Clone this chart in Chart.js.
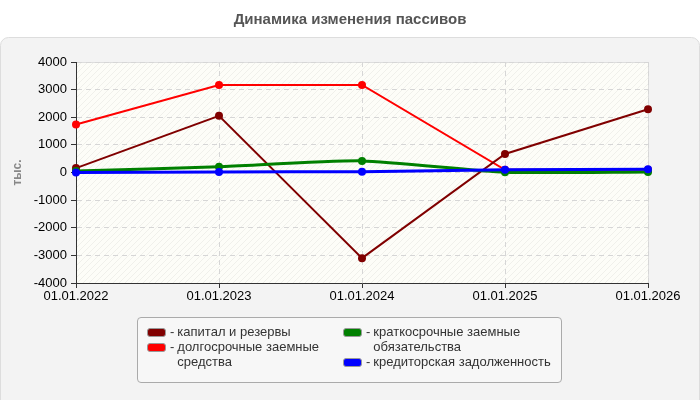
<!DOCTYPE html>
<html>
<head>
<meta charset="utf-8">
<script src="https://cdn.jsdelivr.net/npm/chart.js@4"></script>
<style>
  body { margin: 0; background: #fff; font-family: "Liberation Sans", Arial, sans-serif; }
  #wrap { position: relative; width: 700px; height: 400px; }
  #legend {
    position: absolute; left: 137px; top: 317px; width: 425px; height: 66px;
    border: 1px solid #aaa; border-radius: 4px; background: #f7f7f7;
    box-sizing: border-box; font-size: 13px; color: #333;
  }
  .item { position: absolute; display: flex; line-height: 15px; }
  .sw { width: 17px; height: 7px; border: 1px solid #999; border-radius: 3px; margin-top: 4px; flex: none; }
  .dash { margin: 0 3px 0 4px; }
</style>
</head>
<body>
<div id="wrap">
  <canvas id="chart" width="700" height="400"></canvas>
  <div id="legend"></div>
</div>
<script>
const dates = ['01.01.2022', '01.01.2023', '01.01.2024', '01.01.2025', '01.01.2026'];
const capital = [160, 2050, -3100, 670, 2290];
const longLoans = [1740, 3170, 3170, 100, 100];
const shortLoans = [50, 210, 420, 10, 20];
const payables = [0, 20, 30, 100, 120];
const seriesNames = ['капитал и резервы', 'долгосрочные заемные средства', 'краткосрочные заемные обязательства', 'кредиторская задолженность'];
const seriesColors = ['#800000', '#ff0000', '#008000', '#0000ff'];

// hatch for plot area
const pat = document.createElement('canvas');
pat.width = 6; pat.height = 6;
const pctx = pat.getContext('2d');
pctx.fillStyle = '#fdfdf8';
pctx.fillRect(0, 0, 6, 6);
pctx.strokeStyle = 'rgba(0,0,0,0.05)';
pctx.lineWidth = 1;
pctx.beginPath();
pctx.moveTo(0, 6); pctx.lineTo(6, 0);
pctx.stroke();

const panelBg = {
  id: 'panelBg',
  beforeDraw(chart) {
    const c = chart.ctx;
    const a = chart.chartArea;
    c.save();
    c.fillStyle = '#555';
    c.font = 'bold 15px "Liberation Sans", Arial, sans-serif';
    c.textAlign = 'center';
    c.textBaseline = 'middle';
    c.fillText('Динамика изменения пассивов', 350, 20);
    c.fillStyle = '#f3f3f3';
    c.strokeStyle = '#ddd';
    c.beginPath();
    c.roundRect(0.5, 37.5, 699, 380, 8);
    c.fill();
    c.stroke();
    c.fillStyle = c.createPattern(pat, 'repeat');
    c.fillRect(a.left, a.top, a.right - a.left, a.bottom - a.top);
    c.strokeStyle = '#ddd';
    c.strokeRect(a.left + 0.5, a.top + 0.5, a.right - a.left, a.bottom - a.top);
    c.restore();
  }
};

const lineData = [capital, longLoans, shortLoans, payables];
const widths = [2, 2, 3, 3];
const orders = [2, 3, 1, 0];
const datasets = lineData.map((d, i) => ({
  label: seriesNames[i],
  data: d,
  borderColor: seriesColors[i],
  backgroundColor: seriesColors[i],
  borderWidth: widths[i],
  pointRadius: 4,
  pointBorderWidth: 0,
  tension: i >= 2 ? 0.2 : 0,
  order: orders[i]
}));

const tickFont = { size: 13, family: '"Liberation Sans", Arial' };

new Chart(document.getElementById('chart'), {
  type: 'line',
  data: { labels: dates, datasets: datasets },
  options: {
    responsive: false,
    animation: false,
    layout: { padding: { left: 10, right: 52, top: 62, bottom: 97 } },
    plugins: {
      legend: { display: false },
      tooltip: { enabled: false }
    },
    scales: {
      x: {
        offset: false,
        afterFit(s) { s.height = 20; },
        grid: { color: '#d6d6d6', tickColor: '#333', tickLength: 5, tickBorderDash: [] },
        border: { color: '#333', dash: [5, 4] },
        ticks: { color: '#000', font: tickFont, maxRotation: 0, padding: 1 }
      },
      y: {
        min: -4000, max: 4000,
        afterFit(s) { s.width = 66; },
        grid: { color: '#d6d6d6', tickColor: '#333', tickLength: 5, tickBorderDash: [] },
        border: { color: '#333', dash: [5, 4] },
        ticks: { stepSize: 1000, color: '#000', font: tickFont, padding: 4, callback: v => String(v) },
        title: { display: true, text: 'тыс.', color: '#888', font: { size: 12, weight: 'bold', family: '"Liberation Sans", Arial' }, padding: 0 }
      }
    }
  },
  plugins: [panelBg]
});

// html legend, two columns
const legend = document.getElementById('legend');
const pos = [[9, 6, 160], [9, 21, 160], [205, 6, 190], [205, 36, 200]];
seriesNames.forEach((name, i) => {
  const it = document.createElement('div');
  it.className = 'item';
  it.style.left = pos[i][0] + 'px';
  it.style.top = pos[i][1] + 'px';
  it.innerHTML = '<div class="sw" style="background:' + seriesColors[i] + '"></div><span class="dash">-</span><div style="width:' + pos[i][2] + 'px">' + name + '</div>';
  legend.appendChild(it);
});
</script>
</body>
</html>
